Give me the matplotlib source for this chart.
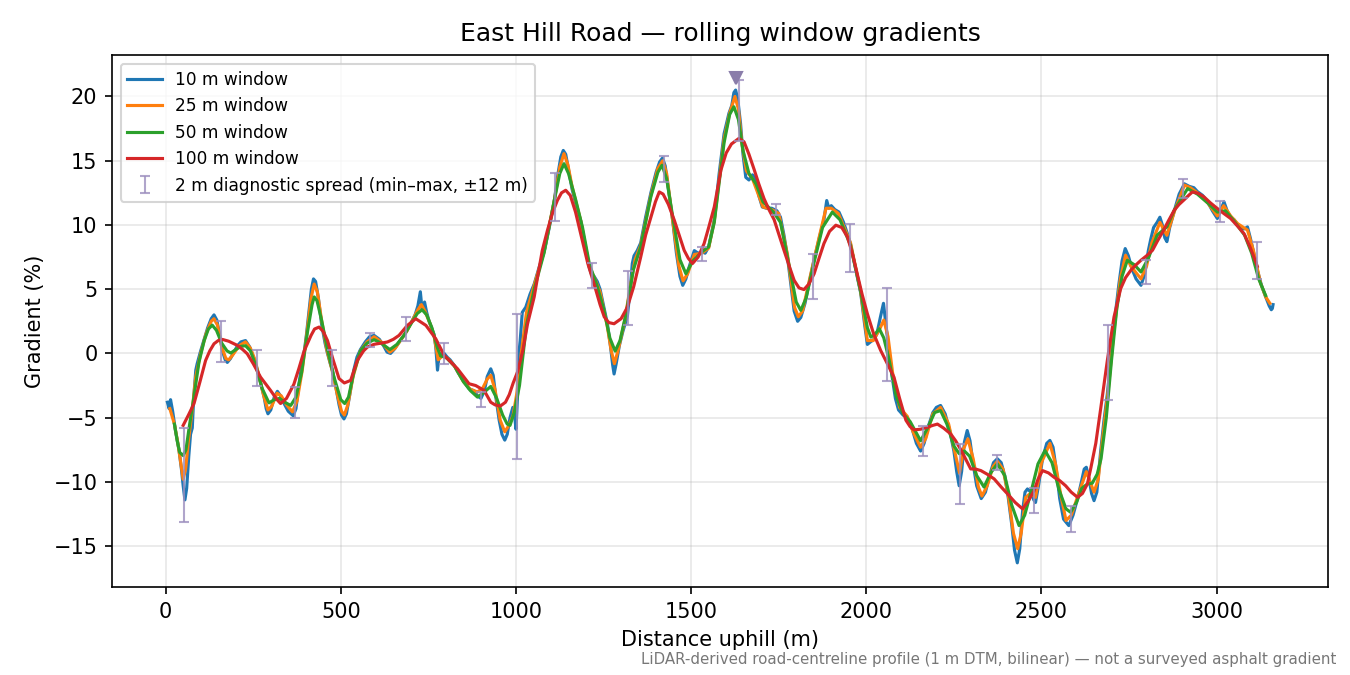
import numpy as np
import matplotlib
matplotlib.use("Agg")
import matplotlib.pyplot as plt

# ---------------- data ----------------
x10 = [5, 10, 14, 20, 28, 38, 45, 50, 55, 60, 66, 71, 76, 80, 86, 90, 100, 109, 120, 130,
       138, 146, 155, 162, 170, 176, 185, 195, 205, 215, 228, 240, 252, 262, 272, 281, 287, 292, 300, 310,
       319, 328, 340, 350, 364, 372, 380, 388, 395, 402, 410, 416, 422, 428, 436, 445, 455, 462, 470, 476,
       485, 495, 502, 509, 516, 525, 537, 546, 556, 570, 582, 595, 610, 622, 632, 642, 652, 662, 670, 685,
       699, 712, 720, 727, 732, 736, 739, 745, 752, 760, 766, 771, 776, 780, 786, 795, 804, 812, 823, 835,
       852, 866, 880, 890, 900, 910, 918, 928, 935, 943, 952, 960, 968, 975, 983, 991, 996, 1000, 1005, 1009,
       1012, 1018, 1028, 1040, 1052, 1066, 1081, 1095, 1110, 1120, 1128, 1135, 1142, 1150, 1160, 1172, 1185, 1197, 1209, 1215,
       1223, 1232, 1240, 1250, 1261, 1270, 1276, 1280, 1286, 1295, 1305, 1318, 1326, 1332, 1337, 1346, 1356, 1370, 1385, 1400,
       1410, 1418, 1426, 1435, 1447, 1458, 1468, 1476, 1485, 1495, 1509, 1520, 1532, 1540, 1550, 1566, 1580, 1594, 1608, 1616,
       1622, 1627, 1633, 1641, 1648, 1656, 1665, 1675, 1684, 1693, 1703, 1715, 1730, 1745, 1755, 1765, 1775, 1785, 1794, 1804,
       1813, 1825, 1840, 1851, 1865, 1879, 1887, 1893, 1900, 1910, 1922, 1935, 1945, 1955, 1970, 1984, 1995, 2003, 2012, 2022,
       2030, 2040, 2049, 2055, 2060, 2068, 2074, 2083, 2092, 2105, 2117, 2130, 2143, 2155, 2165, 2178, 2190, 2200, 2212, 2225,
       2238, 2250, 2258, 2265, 2272, 2280, 2288, 2296, 2305, 2315, 2328, 2340, 2352, 2363, 2374, 2385, 2395, 2405, 2415, 2423,
       2431, 2438, 2446, 2453, 2460, 2470, 2478, 2483, 2492, 2503, 2515, 2524, 2533, 2542, 2552, 2563, 2578, 2590, 2603, 2614,
       2622, 2628, 2636, 2643, 2650, 2658, 2669, 2678, 2688, 2698, 2707, 2714, 2721, 2730, 2739, 2748, 2758, 2770, 2784, 2795,
       2805, 2812, 2820, 2830, 2838, 2845, 2852, 2858, 2866, 2879, 2893, 2908, 2922, 2935, 2945, 2960, 2974, 2988, 3002, 3012,
       3021, 3030, 3040, 3050, 3060, 3070, 3080, 3088, 3096, 3106, 3116, 3128, 3140, 3150, 3156, 3159, 3161]
g10 = [-3.8, -4.3, -3.6, -4.5, -6.0, -7.5, -9.0, -10.3, -11.4, -10.5, -8.0, -6.3, -5.8, -3.5, -1.3, -0.8, 0.2, 1.0, 2.0, 2.7,
       3.0, 2.6, 1.3, 0.2, -0.5, -0.7, -0.4, 0.1, 0.6, 0.9, 1.0, 0.5, -0.4, -1.3, -2.4, -3.4, -4.3, -4.7, -4.4, -3.4,
       -2.95, -3.3, -4.0, -4.5, -4.85, -4.3, -2.5, -1.0, 0.0, 1.5, 3.5, 5.0, 5.8, 5.6, 4.3, 2.3, 0.8, 0.0, -0.8, -1.3,
       -2.5, -4.0, -4.8, -5.1, -4.7, -3.3, -1.3, -0.3, 0.3, 0.9, 1.3, 1.4, 1.1, 0.6, 0.1, 0.0, 0.3, 0.7, 1.0, 1.6,
       2.3, 3.0, 3.7, 4.8, 3.4, 3.6, 4.0, 3.2, 2.5, 1.9, 1.5, 0.5, -1.3, -0.3, -0.1, 0.0, -0.3, -0.5, -0.9, -1.5,
       -2.2, -2.75, -2.9, -3.3, -3.5, -2.9, -1.8, -1.2, -1.7, -3.5, -5.2, -6.3, -6.75, -6.3, -5.0, -4.2, -4.8, -5.9, -3.0, 0.2,
       1.0, 3.2, 3.6, 4.6, 5.4, 6.7, 8.0, 9.8, 12.0, 14.0, 15.3, 15.8, 15.5, 14.3, 12.8, 11.5, 10.3, 8.5, 6.7, 6.2,
       6.0, 5.6, 5.0, 3.7, 2.3, 0.5, -0.9, -1.6, -0.8, 0.6, 1.7, 2.9, 5.0, 7.0, 7.6, 8.0, 8.6, 10.6, 12.5, 14.1,
       14.9, 15.2, 14.6, 12.8, 10.4, 7.8, 6.0, 5.3, 5.8, 6.8, 8.0, 7.8, 7.9, 7.8, 8.3, 10.4, 14.0, 17.1, 18.7, 19.3,
       20.3, 20.5, 19.8, 17.9, 15.5, 13.7, 13.5, 13.9, 13.6, 12.3, 11.4, 11.3, 11.3, 11.1, 10.6, 9.2, 7.5, 5.3, 3.3, 2.5,
       2.8, 3.9, 5.9, 7.3, 8.9, 10.4, 11.9, 11.3, 11.5, 11.2, 11.0, 10.2, 9.4, 8.5, 6.5, 4.7, 2.3, 0.7, 0.9, 1.1,
       1.5, 2.8, 3.9, 2.5, 1.3, -0.8, -1.9, -3.5, -4.4, -4.8, -5.0, -5.8, -7.0, -7.6, -7.0, -5.6, -4.6, -4.2, -4.05, -4.7,
       -6.0, -7.6, -9.2, -10.3, -9.2, -6.9, -6.0, -6.8, -8.6, -10.3, -11.3, -10.8, -9.5, -8.5, -8.2, -8.5, -9.5, -11.2, -13.3, -15.3,
       -16.3, -15.2, -12.3, -10.8, -10.55, -10.8, -11.4, -11.6, -10.2, -8.2, -7.0, -6.77, -7.3, -9.0, -11.3, -12.9, -13.4, -12.6, -11.3, -10.0,
       -9.0, -8.86, -9.8, -10.9, -11.46, -10.8, -7.6, -5.3, -3.15, -0.5, 2.05, 3.8, 5.4, 7.2, 8.16, 7.6, 6.6, 5.8, 5.3, 6.2,
       8.0, 8.9, 9.8, 10.2, 10.6, 10.0, 9.0, 8.7, 9.8, 11.1, 12.4, 13.2, 13.0, 12.9, 12.6, 12.3, 11.8, 11.1, 10.5, 11.2,
       11.8, 11.1, 10.6, 10.4, 10.0, 9.7, 9.7, 9.85, 9.0, 7.8, 6.5, 5.3, 4.4, 3.7, 3.4, 3.5, 3.8]

x25 = [12, 25, 35, 43, 50, 57, 65, 75, 86, 100, 115, 130, 138, 148, 160, 172, 180, 192, 210, 228,
       242, 255, 265, 280, 292, 303, 318, 330, 345, 362, 375, 390, 405, 415, 424, 433, 445, 460, 475, 490,
       502, 510, 520, 535, 556, 575, 595, 615, 640, 655, 670, 690, 705, 720, 730, 740, 755, 766, 778, 790,
       805, 825, 850, 870, 890, 905, 918, 928, 940, 955, 968, 980, 992, 1003, 1015, 1030, 1052, 1080, 1110, 1125,
       1137, 1148, 1160, 1185, 1209, 1225, 1240, 1260, 1272, 1281, 1292, 1310, 1325, 1340, 1356, 1385, 1405, 1419, 1430, 1447,
       1465, 1477, 1490, 1509, 1530, 1550, 1566, 1594, 1610, 1625, 1635, 1645, 1658, 1675, 1690, 1705, 1730, 1750, 1775, 1795,
       1806, 1818, 1840, 1865, 1885, 1900, 1920, 1955, 1984, 2003, 2020, 2040, 2050, 2062, 2075, 2095, 2117, 2135, 2155, 2170,
       2190, 2212, 2235, 2252, 2266, 2278, 2290, 2305, 2320, 2330, 2345, 2362, 2374, 2390, 2405, 2420, 2432, 2442, 2455, 2468,
       2483, 2500, 2524, 2540, 2555, 2570, 2585, 2605, 2628, 2650, 2662, 2675, 2690, 2707, 2725, 2740, 2755, 2784, 2800, 2815,
       2838, 2858, 2880, 2908, 2925, 2945, 2975, 3002, 3020, 3040, 3060, 3088, 3105, 3125, 3140, 3152]
g25 = [-4.3, -5.5, -7.0, -8.5, -9.8, -9.0, -6.8, -4.6, -1.8, 0.0, 1.5, 2.5, 2.7, 2.2, 0.5, -0.4, -0.5, -0.1, 0.6, 0.9,
       0.4, -0.5, -1.6, -3.3, -4.4, -4.1, -3.1, -3.3, -4.0, -4.55, -3.7, -1.3, 2.0, 4.3, 5.4, 4.8, 2.6, 0.3, -1.3, -3.2,
       -4.5, -4.8, -4.0, -1.8, 0.2, 0.9, 1.3, 0.9, 0.1, 0.4, 1.0, 1.8, 2.6, 3.4, 3.8, 3.3, 2.3, 1.4, -0.5, -0.2,
       -0.4, -1.0, -2.2, -2.8, -3.0, -2.7, -2.0, -1.7, -2.8, -5.2, -6.1, -5.6, -4.8, -3.0, 0.0, 3.2, 5.3, 7.9, 12.0, 14.5,
       15.55, 14.7, 13.0, 10.3, 6.8, 5.8, 4.8, 2.2, 0.2, -0.8, 0.3, 2.5, 5.0, 7.3, 8.4, 12.3, 14.4, 15.0, 14.0, 10.4,
       6.8, 5.65, 6.2, 7.7, 7.8, 8.2, 10.3, 16.7, 18.7, 20.0, 19.0, 16.3, 14.2, 13.6, 12.5, 11.4, 11.2, 10.9, 7.7, 3.6,
       2.85, 3.3, 6.0, 9.0, 11.3, 11.3, 10.9, 8.6, 4.8, 1.0, 1.0, 2.0, 2.6, 1.3, -1.5, -4.2, -4.9, -6.2, -7.3, -6.6,
       -4.7, -4.2, -5.5, -7.6, -9.3, -7.4, -6.65, -8.2, -10.4, -11.1, -10.3, -8.8, -8.4, -9.0, -11.0, -14.0, -15.2, -14.0, -11.2, -10.9,
       -11.2, -8.5, -7.0, -8.6, -11.0, -13.0, -12.6, -11.0, -9.2, -10.8, -9.8, -6.5, -3.0, 1.8, 5.8, 7.64, 6.8, 5.8, 6.8, 8.6,
       10.2, 9.2, 11.1, 13.1, 12.9, 12.5, 11.7, 10.7, 11.5, 10.7, 10.1, 9.6, 8.0, 5.5, 4.4, 3.9]

x50 = [25, 33, 40, 50, 58, 68, 80, 95, 110, 122, 133, 145, 160, 175, 186, 200, 215, 228, 242, 258,
       275, 295, 310, 325, 340, 357, 372, 388, 405, 418, 424, 432, 445, 462, 480, 500, 511, 522, 537, 556,
       575, 595, 615, 640, 660, 680, 700, 718, 732, 745, 760, 775, 785, 800, 825, 850, 870, 890, 910, 928,
       945, 962, 975, 983, 995, 1010, 1030, 1052, 1080, 1110, 1125, 1137, 1150, 1170, 1190, 1210, 1230, 1250, 1268, 1283,
       1297, 1315, 1335, 1356, 1385, 1405, 1417, 1430, 1447, 1468, 1485, 1505, 1530, 1550, 1566, 1594, 1610, 1622, 1635, 1648,
       1665, 1685, 1705, 1735, 1755, 1780, 1800, 1813, 1828, 1850, 1875, 1903, 1925, 1955, 1984, 2003, 2013, 2025, 2037, 2050,
       2065, 2085, 2105, 2125, 2155, 2175, 2195, 2212, 2230, 2250, 2265, 2280, 2295, 2315, 2336, 2355, 2374, 2395, 2415, 2436,
       2452, 2470, 2490, 2510, 2530, 2550, 2570, 2583, 2600, 2615, 2631, 2645, 2659, 2670, 2685, 2700, 2715, 2730, 2745, 2765,
       2784, 2805, 2830, 2858, 2880, 2917, 2945, 2975, 3002, 3025, 3050, 3080, 3100, 3120, 3140]
g50 = [-5.5, -6.8, -7.7, -7.95, -7.5, -5.6, -3.5, -0.7, 1.0, 1.9, 2.2, 1.8, 0.8, 0.2, 0.03, 0.3, 0.55, 0.6, 0.2, -1.0,
       -2.7, -3.85, -3.6, -3.5, -3.8, -4.05, -3.4, -1.5, 1.7, 3.8, 4.4, 4.1, 2.6, 0.3, -1.8, -3.6, -3.9, -3.4, -1.5, 0.2,
       0.8, 1.07, 0.8, 0.3, 0.7, 1.4, 2.3, 3.1, 3.4, 3.0, 2.0, 0.5, -0.2, -0.3, -1.0, -2.2, -2.9, -3.4, -3.0, -2.57,
       -3.5, -4.8, -5.5, -5.6, -4.6, -2.5, 2.2, 5.0, 7.8, 12.0, 14.0, 14.77, 14.0, 12.0, 9.8, 6.9, 5.4, 3.5, 1.2, 0.18,
       1.0, 3.2, 6.5, 8.3, 12.2, 14.1, 14.65, 13.6, 10.7, 7.3, 6.2, 7.2, 7.9, 8.3, 10.2, 16.4, 18.6, 19.2, 18.2, 15.8,
       14.0, 13.2, 11.8, 11.0, 10.2, 6.8, 4.0, 3.35, 4.3, 7.0, 9.8, 11.0, 10.4, 8.4, 4.8, 2.0, 1.27, 1.5, 1.92, 1.2,
       -0.5, -3.3, -4.7, -5.3, -6.8, -5.8, -4.6, -4.45, -5.5, -7.2, -7.8, -7.6, -8.0, -9.5, -10.4, -9.3, -8.6, -9.5, -11.8, -13.4,
       -12.6, -10.8, -8.6, -7.56, -8.5, -10.6, -12.1, -12.36, -11.6, -10.5, -10.16, -10.1, -9.4, -8.2, -5.0, -0.5, 3.5, 6.0, 7.25, 6.9,
       6.34, 7.4, 9.2, 9.85, 11.2, 12.83, 12.4, 11.7, 11.0, 11.1, 10.3, 9.2, 7.8, 5.8, 4.5]

x100 = [50, 65, 81, 98, 114, 126, 138, 150, 162, 180, 205, 220, 233, 250, 271, 300, 318, 328, 345, 366,
        380, 395, 415, 425, 438, 450, 462, 478, 495, 510, 528, 547, 565, 576, 595, 615, 633, 650, 666, 690,
        714, 743, 771, 795, 815, 833, 850, 866, 885, 909, 928, 940, 955, 970, 981, 992, 1005, 1020, 1033, 1052,
        1062, 1075, 1090, 1105, 1118, 1130, 1142, 1155, 1170, 1185, 1205, 1223, 1240, 1252, 1265, 1280, 1300, 1318, 1336, 1356,
        1370, 1385, 1398, 1409, 1420, 1435, 1452, 1466, 1480, 1492, 1504, 1520, 1537, 1550, 1566, 1585, 1600, 1615, 1636, 1651,
        1665, 1680, 1693, 1708, 1722, 1737, 1750, 1765, 1780, 1794, 1808, 1822, 1836, 1851, 1865, 1879, 1895, 1913, 1930, 1946,
        1960, 1974, 1988, 2003, 2020, 2041, 2060, 2079, 2095, 2113, 2125, 2136, 2155, 2174, 2190, 2203, 2220, 2241, 2255, 2270,
        2285, 2298, 2312, 2327, 2345, 2365, 2385, 2403, 2425, 2446, 2462, 2479, 2490, 2503, 2520, 2536, 2552, 2569, 2585, 2603,
        2617, 2631, 2641, 2655, 2669, 2688, 2707, 2726, 2740, 2755, 2770, 2784, 2800, 2817, 2830, 2846, 2862, 2879, 2893, 2908,
        2920, 2931, 2948, 2964, 2983, 3002, 3020, 3040, 3060, 3078, 3095, 3105, 3116]
g100 = [-5.6, -4.8, -3.9, -2.2, -0.55, 0.2, 0.75, 1.0, 1.09, 0.95, 0.62, 0.3, -0.03, -0.8, -1.85, -2.9, -3.6, -3.9, -3.5, -2.4,
        -1.2, 0.17, 1.4, 1.9, 2.05, 1.7, 1.0, -0.5, -1.96, -2.3, -2.1, -0.55, 0.2, 0.5, 0.71, 0.8, 0.89, 1.1, 1.4, 2.18,
        2.7, 2.18, 1.14, -0.15, -0.7, -1.19, -1.8, -2.36, -2.5, -2.88, -3.8, -4.0, -4.1, -3.8, -3.2, -2.3, -1.4, 0.3, 2.3, 4.4,
        6.0, 8.0, 9.6, 11.0, 11.9, 12.5, 12.7, 12.3, 11.0, 9.3, 7.0, 5.4, 3.8, 2.84, 2.4, 2.31, 2.7, 3.6, 5.2, 7.5,
        9.2, 10.6, 11.8, 12.57, 12.4, 11.6, 10.36, 9.2, 8.03, 7.4, 7.0, 7.5, 8.55, 9.8, 11.4, 14.27, 15.6, 16.3, 16.73, 16.47,
        15.5, 14.3, 13.2, 12.05, 11.2, 10.4, 9.3, 8.03, 6.8, 5.69, 5.1, 4.97, 5.4, 6.2, 7.4, 8.55, 9.5, 9.98, 9.8, 9.07,
        7.8, 6.2, 4.6, 3.09, 1.6, 0.23, -0.8, -1.85, -3.5, -5.2, -5.7, -5.95, -5.9, -5.75, -5.6, -5.5, -5.8, -6.27, -6.8, -7.5,
        -8.3, -8.99, -9.0, -9.12, -9.4, -9.77, -10.4, -10.93, -11.6, -12.1, -11.5, -10.68, -9.8, -9.12, -9.3, -9.64, -9.9, -10.3, -10.8, -11.2,
        -10.9, -10.16, -8.9, -7.0, -4.3, -0.55, 2.83, 5.04, 5.9, 6.47, 6.9, 7.25, 7.6, 8.03, 8.7, 9.46, 10.3, 11.15, 11.6, 11.98,
        12.3, 12.57, 12.45, 12.18, 11.7, 11.28, 10.9, 10.5, 9.9, 9.33, 8.3, 7.6, 6.78]

spread_x = [51, 159, 262, 368, 476, 583, 687, 795, 899, 1004, 1110, 1216, 1321, 1423, 1530,
            1638, 1741, 1848, 1953, 2058, 2163, 2268, 2374, 2479, 2585, 2691, 2798, 2904, 3009, 3114]
spread_lo = [-13.1, -0.7, -2.5, -5.0, -2.5, 0.5, 1.0, -0.8, -4.2, -8.2, 10.3, 5.1, 2.2, 13.35, 7.2,
             16.5, 10.8, 4.2, 6.3, -2.16, -8.0, -11.7, -9.04, -12.4, -13.9, -3.66, 5.4, 12.06, 10.2, 5.77]
spread_hi = [-5.8, 2.5, 0.3, -2.6, 0.3, 1.6, 2.8, 0.8, -3.0, 3.1, 14.05, 7.07, 6.4, 15.4, 8.3,
             21.3, 11.6, 7.7, 10.1, 5.1, -5.66, -7.04, -7.9, -10.5, -11.85, 2.2, 7.25, 13.56, 11.9, 8.7]

peak_x = [1628]
peak_y = [21.4]

series_labels = ["10 m window", "25 m window", "50 m window", "100 m window"]
series_colors = ["#1f77b4", "#ff7f0e", "#2ca02c", "#d62728"]

# ---------------- plot ----------------
fig, ax = plt.subplots(figsize=(9, 4.5), dpi=150)
fig.subplots_adjust(left=0.083, right=0.984, top=0.918, bottom=0.130)

for xs, ys, lab, col in zip([x10, x25, x50, x100], [g10, g25, g50, g100],
                            series_labels, series_colors):
    ax.plot(xs, ys, color=col, lw=1.5, label=lab, zorder=2, solid_joinstyle="round")

sx = np.array(spread_x)
lo = np.array(spread_lo)
hi = np.array(spread_hi)
mid = (lo + hi) / 2
ax.errorbar(sx, mid, yerr=[mid - lo, hi - mid], fmt="none", ecolor="#9c8fbe",
            alpha=0.8, elinewidth=1.0, capsize=2.5, capthick=1.0, zorder=3,
            label="2 m diagnostic spread (min\u2013max, \u00b112 m)")
ax.plot(peak_x, peak_y, marker="v", ls="none", color="#8a7daa", ms=6, zorder=4)

ax.set_xlim(-153, 3319)
ax.set_ylim(-18.2, 23.2)
ax.set_yticks([-15, -10, -5, 0, 5, 10, 15, 20])
ax.set_xticks([0, 500, 1000, 1500, 2000, 2500, 3000])
ax.grid(True, alpha=0.3)
ax.set_xlabel("Distance uphill (m)")
ax.set_ylabel("Gradient (%)")
ax.set_title("East Hill Road \u2014 rolling window gradients", fontsize=12, pad=7)
ax.legend(loc="upper left", fontsize=8.2)

fig.text(0.99, 0.012, "LiDAR-derived road-centreline profile (1 m DTM, bilinear) \u2014 not a surveyed asphalt gradient",
         ha="right", va="bottom", fontsize=7.2, color="#777777")

fig.savefig("out.png", dpi=150)
